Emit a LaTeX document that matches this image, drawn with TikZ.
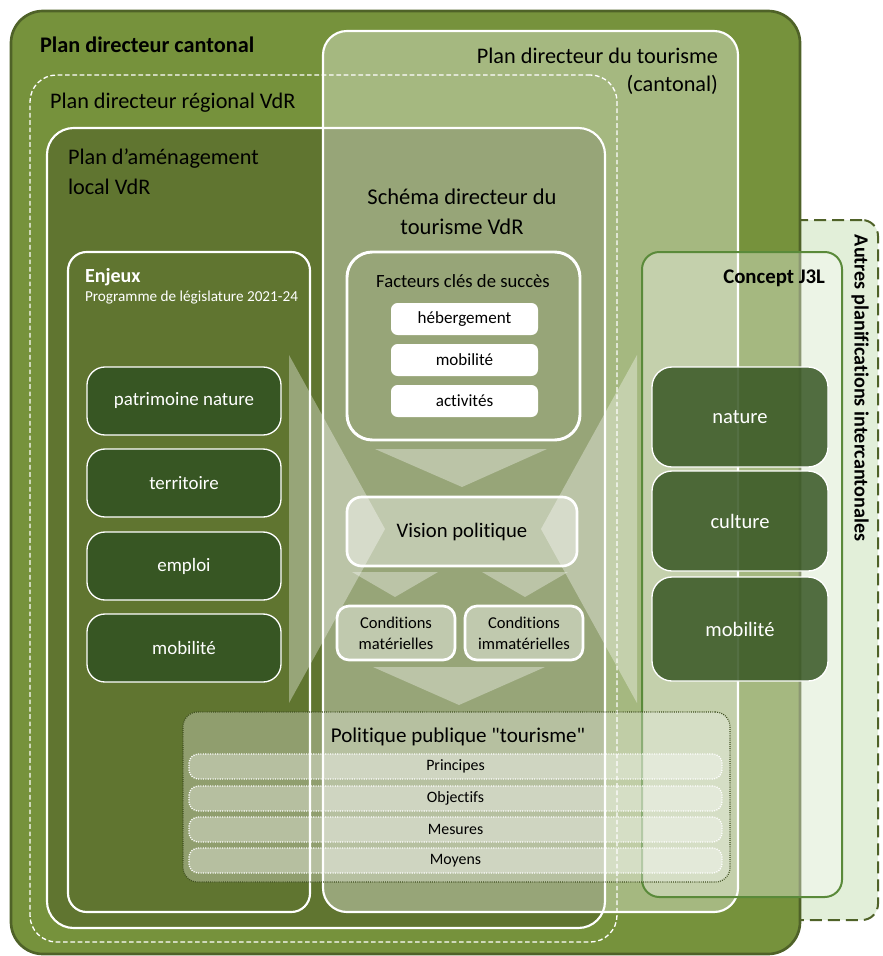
\documentclass[tikz,border=0pt]{standalone}
\usepackage{fontspec}
\setmainfont{Carlito}[Ligatures={NoCommon}]
\newfontfamily\plainquote{Carlito}[Ligatures={NoCommon,TeXOff}]
\usetikzlibrary{fit}
\definecolor{outerG}{HTML}{76923C}
\definecolor{outerB}{HTML}{4F6228}
\definecolor{palG}{HTML}{607530}
\definecolor{darkG}{HTML}{375623}
\definecolor{autresG}{HTML}{E2EFD9}
\definecolor{j3lB}{HTML}{5A8A3A}
\definecolor{dotB}{HTML}{3F4F20}
\tikzset{
  area/.style={inner sep=0pt, outer sep=0pt},
  darkitem/.style={area, fill=darkG, draw=white, line width=1pt, rounded corners=13.5pt},
  j3item/.style={area, fill=darkG, fill opacity=0.85, draw=white, draw opacity=1, line width=1pt, rounded corners=15pt},
  whiteitem/.style={area, fill=white, rounded corners=5pt},
  lightbox/.style={area, fill=white, fill opacity=0.4, draw=white, draw opacity=1, line width=2pt, rounded corners=9pt},
  tri/.style={fill=white, fill opacity=0.35},
  polrow/.style={area, fill=white, fill opacity=0.35, draw=white, draw opacity=1, line width=1pt, dash pattern=on 0.8pt off 1pt, rounded corners=7pt},
  txt/.style={inner sep=0pt, outer sep=0pt},
  biglbl/.style={txt, font=\fontsize{16.7}{20}\selectfont},
  darktxt/.style={txt, text=white, font=\fontsize{14.2}{17}\selectfont},
  j3txt/.style={txt, text=white, font=\fontsize{15.4}{18}\selectfont},
  smalltxt/.style={txt, font=\fontsize{12.8}{15}\selectfont},
  rowtxt/.style={txt, font=\fontsize{11.9}{14}\selectfont},
  condtxt/.style={txt, align=center, font=\fontsize{12.4}{15.5}\selectfont},
}
\begin{document}
\begin{tikzpicture}[x=0.75pt,y=-0.75pt]
\useasboundingbox (0,0) rectangle (882,956);
% Autres planifications intercantonales
\node[area, fit={(720,220)(878,920)}, fill=autresG, draw=outerB, line width=1.5pt, dash pattern=on 9pt off 4.5pt, rounded corners=12pt] (autres) {};
% Plan directeur cantonal
\node[area, fit={(11,11)(800,954)}, fill=outerG, draw=outerB, line width=2pt, rounded corners=24pt] (outer) {};
% Plan directeur regional (dashed)
\node[area, fit={(30,75)(617,942)}, draw=white, line width=1pt, dash pattern=on 3.5pt off 2pt, rounded corners=20pt] (regional) {};
% Plan d'amenagement local
\node[area, fit={(47,128)(605,928)}, fill=palG, draw=white, line width=1.6pt, rounded corners=20pt] (pal) {};
% Enjeux
\node[area, fit={(68,252)(310,912)}, draw=white, line width=1.6pt, rounded corners=14pt] (enjeux) {};
\node[darkitem, fit={(87,367)(281,435)}] (e1) {};
\node[darkitem, fit={(87,449)(281,517)}] (e2) {};
\node[darkitem, fit={(87,532)(281,600)}] (e3) {};
\node[darkitem, fit={(87,614)(281,682)}] (e4) {};
\node[darktxt] (te1) at (e1) {patrimoine nature};
\node[darktxt] (te2) at (e2) {territoire};
\node[darktxt] (te3) at (e3) {emploi};
\node[darktxt] (te4) at (e4) {mobilité};
% Plan directeur du tourisme
\node[area, fit={(323,31)(738,912)}, fill=white, fill opacity=0.35, draw=white, draw opacity=1, line width=1.6pt, rounded corners=18pt] (tourism) {};
% labels
\node[txt, anchor=west, font=\bfseries\fontsize{16.7}{20}\selectfont] (lcant) at (40,45) {Plan directeur cantonal};
\node[biglbl, anchor=east] (ltour1) at (718,56) {Plan directeur du tourisme};
\node[biglbl, anchor=east] (ltour2) at (718,85) {(cantonal)};
\node[biglbl, anchor=west] (lreg) at (50,103) {Plan directeur régional VdR};
\node[biglbl, anchor=west] (lpal1) at (68,159) {Plan d’aménagement};
\node[biglbl, anchor=west] (lpal2) at (68,187) {local VdR};
\node[biglbl, align=center, font=\fontsize{16.9}{22.5}\selectfont] (lsch) at (462,212) {Schéma directeur du\\tourisme VdR};
\node[txt, anchor=west, text=white, font=\bfseries\fontsize{15}{18}\selectfont] (lenj) at (85,277) {Enjeux};
\node[txt, anchor=west, text=white, font=\fontsize{11.4}{13}\selectfont] (lprog) at (85,298) {Programme de législature 2021-24};
% Facteurs cles
\node[area, fit={(347,252)(580,440)}, draw=white, line width=2.2pt, rounded corners=19pt] (facteurs) {};
\node[txt, font=\fontsize{14}{16}\selectfont] (lfac) at (463,281) {Facteurs clés de succès};
\node[whiteitem, fit={(391,303)(538,335)}] (f1) {};
\node[whiteitem, fit={(391,344)(538,376)}] (f2) {};
\node[whiteitem, fit={(391,385)(538,417)}] (f3) {};
\node[smalltxt] (tf1) at (f1) {hébergement};
\node[smalltxt] (tf2) at (f2) {mobilité};
\node[smalltxt] (tf3) at (f3) {activités};
% big side triangles
\fill[tri] (289,355) -- (385,529) -- (289,703) -- cycle;
\fill[tri] (637,355) -- (541,529) -- (637,703) -- cycle;
% vision
\fill[tri] (375,449) -- (547,449) -- (462,487) -- cycle;
\node[lightbox, fit={(347,497)(577,566)}, rounded corners=11pt] (vision) {};
\node[txt, font=\fontsize{15.5}{18}\selectfont] (tvision) at (vision) {Vision politique};
\fill[tri] (352,572) -- (438,572) -- (395,597) -- cycle;
\fill[tri] (482,572) -- (568,572) -- (525,597) -- cycle;
\node[lightbox, fit={(337,606)(455,660)}] (cm) {};
\node[lightbox, fit={(465,606)(583,660)}] (ci) {};
\node[condtxt] (tcm) at (cm) {Conditions\\matérielles};
\node[condtxt] (tci) at (ci) {Conditions\\immatérielles};
\fill[tri] (373,667) -- (545,667) -- (459,705) -- cycle;
% Concept J3L
\node[area, fit={(642,252)(842,897)}, fill=white, fill opacity=0.35, draw=j3lB, draw opacity=1, line width=1.5pt, rounded corners=13pt] (j3l) {};
\node[txt, anchor=east, font=\bfseries\fontsize{15.6}{18}\selectfont] (lj3l) at (825,278) {Concept J3L};
\node[j3item, fit={(652,367)(828,467)}] (j1) {};
\node[j3item, fit={(652,471)(828,571)}] (j2) {};
\node[j3item, fit={(652,577)(828,681)}] (j3) {};
\node[j3txt] (tj1) at (j1) {nature};
\node[j3txt] (tj2) at (j2) {culture};
\node[j3txt] (tj3) at (j3) {mobilité};
% Autres label
\node[txt, rotate=-90, font=\bfseries\fontsize{15.1}{18}\selectfont] (lautres) at (860,388) {Autres planifications intercantonales};
% Politique publique
\node[area, fit={(183,712)(730,882)}, fill=white, fill opacity=0.3, draw=dotB, draw opacity=1, line width=0.9pt, dash pattern=on 0.7pt off 0.9pt, rounded corners=11pt] (policy) {};
\node[txt, font=\plainquote\fontsize{15.8}{18}\selectfont] (lpol) at (458,737) {Politique publique "tourisme"};
\node[polrow, fit={(189,754)(722,779)}] (p1) {};
\node[polrow, fit={(189,786)(722,811)}] (p2) {};
\node[polrow, fit={(189,817)(722,842)}] (p3) {};
\node[polrow, fit={(189,848)(722,873)}] (p4) {};
\node[rowtxt] (tp1) at (p1) {Principes};
\node[rowtxt] (tp2) at (p2) {Objectifs};
\node[rowtxt] (tp3) at (p3) {Mesures};
\node[rowtxt] (tp4) at (p4) {Moyens};
\end{tikzpicture}
\end{document}
